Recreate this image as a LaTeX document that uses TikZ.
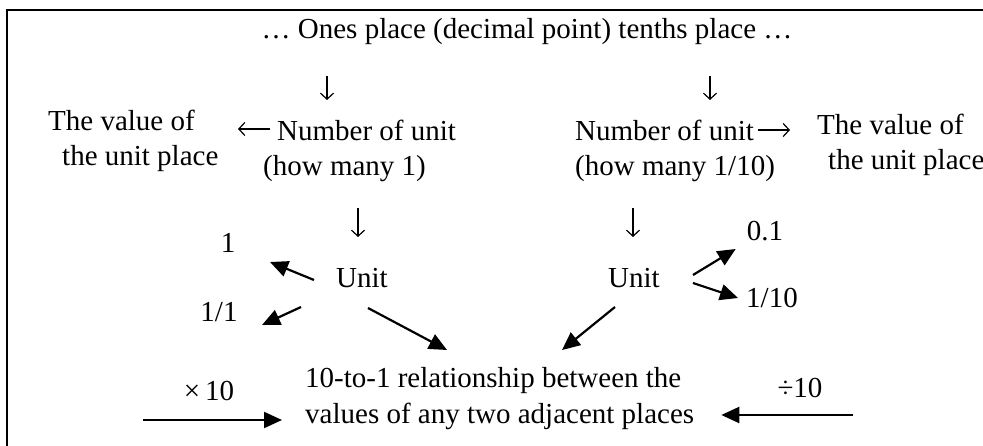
\documentclass[tikz,border=0pt]{standalone}
\usepackage{fontspec}
\setmainfont{Liberation Serif}
\usetikzlibrary{arrows.meta}
\begin{document}
\begin{tikzpicture}[x=1pt,y=-1pt,
  txt/.style={inner sep=0pt,font=\fontsize{29}{35.5}\selectfont},
  glyph/.style={line width=1.2pt,-{Straight Barb[length=6pt,width=13pt]}},
  arr/.style={line width=2.2pt,-{Triangle[length=18pt,width=16pt]}},
  frame/.style={line width=2.6pt}]
\clip (0,0) rectangle (983,446);
\fill[white] (0,0) rectangle (983,446);
\draw[frame] (7,470) -- (7,10) -- (1000,10);

% texts (base anchor of a two-line node = baseline of its last line)
\node[txt,anchor=base] (top) at (527,39) {… Ones place (decimal point) tenths place …};
\node[txt,anchor=base west,align=left] (lval) at (48,166) {The value of\\\hspace{14pt}the unit place};
\node[txt,anchor=base west,align=left] (lnum) at (263,176) {\hspace{14pt}Number of unit\\(how many 1)};
\node[txt,anchor=base west,align=left] (rnum) at (575,176) {Number of unit\\(how many 1/10)};
\node[txt,anchor=base west,align=left] (rval) at (817,170) {The value of\\\hspace{11pt}the unit place};
\node[txt,anchor=base] (lunit) at (362,288) {Unit};
\node[txt,anchor=base] (runit) at (634,288) {Unit};
\node[txt,anchor=base] (one) at (228,253) {1};
\node[txt,anchor=base] (oneone) at (219,322) {1/1};
\node[txt,anchor=base] (pt1) at (765,241) {0.1};
\node[txt,anchor=base] (tenth) at (772,308) {1/10};
\node[txt,anchor=base west,align=left] (rel) at (305,423) {10-to-1 relationship between the\\values of any two adjacent places};
\node[txt,anchor=base] (times) at (209,400) {×\hspace{5pt}10};
\node[txt,anchor=base] (div) at (800,398) {÷10};

% glyph-like arrows
\coordinate (d1a) at (327,76); \coordinate (d1b) at (327,100);
\coordinate (d2a) at (710,76); \coordinate (d2b) at (710,100);
\coordinate (d3a) at (358,208); \coordinate (d3b) at (358,237);
\coordinate (d4a) at (633,208); \coordinate (d4b) at (633,237);
\coordinate (la) at (270,129); \coordinate (lb) at (238,129);
\coordinate (ra) at (758,130); \coordinate (rb) at (790,130);
\draw[glyph] (d1a) -- (d1b);
\draw[glyph] (d2a) -- (d2b);
\draw[glyph] (d3a) -- (d3b);
\draw[glyph] (d4a) -- (d4b);
\draw[glyph] (la) -- (lb);
\draw[glyph] (ra) -- (rb);

% filled arrows
\draw[arr] ([shift={(-22,-8)}]lunit.base west) -- ([shift={(42,9)}]one.base);
\draw[arr] ([shift={(-35,19)}]lunit.base west) -- ([shift={(43,3)}]oneone.base);
\draw[arr] ([shift={(6,20)}]lunit.base) -- ([shift={(142,-73)}]rel.base west);
\draw[arr] ([shift={(33,-13)}]runit.base east) -- ([shift={(-11,8)}]pt1.base west);
\draw[arr] ([shift={(33,-5)}]runit.base east) -- ([shift={(-8,-10)}]tenth.base west);
\draw[arr] ([shift={(-19,19)}]runit.base) -- ([shift={(257,-73)}]rel.base west);
\coordinate (xl) at (143,420);
\coordinate (xr) at (853,415);
\draw[arr,shorten >=23pt] (xl) -- (xl -| rel.west);
\draw[arr,shorten >=27pt] (xr) -- (xr -| rel.east);
\end{tikzpicture}
\end{document}
